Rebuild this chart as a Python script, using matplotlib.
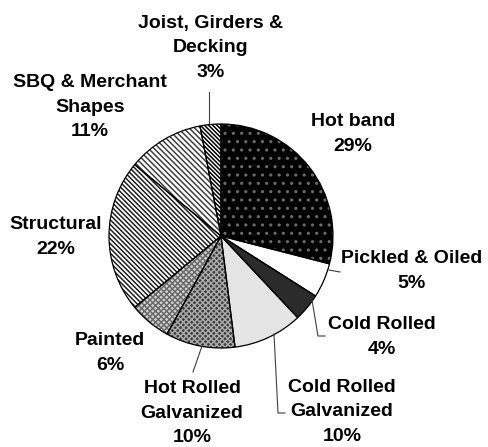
import matplotlib.pyplot as plt

# Product mix shares (%)
products = ['Hot band', 'Pickled & Oiled', 'Cold Rolled', 'Cold Rolled\nGalvanized',
            'Hot Rolled\nGalvanized', 'Painted', 'Structural', 'SBQ & Merchant\nShapes',
            'Joist, Girders &\nDecking']
shares = [29, 5, 4, 10, 10, 6, 22, 11, 3]

# fill style of each wedge: face colour, hatch, hatch colour
faces = ['black', 'white', '#2b2b2b', '#e4e4e4', '#383838', '#d4d4d4', 'white', 'white', 'white']
hatches = ['..', '', '', '', 'xxxxxx', 'xxxxxx', '\\' * 7, '\\' * 6, '\\' * 8]
hatch_cols = ['#6a6a6a', 'white', '#2b2b2b', '#e4e4e4', '#a8a8a8', '#6a6a6a', '#202020', '#404040', 'black']

# label positions in pixels (x, y from top)
label_pos = [(353, 134), (412, 271), (382, 337), (342, 412), (192, 413),
             (110, 353), (56, 237), (90, 107), (211, 48)]

plt.rcParams['font.family'] = ['Liberation Sans', 'DejaVu Sans']
plt.rcParams['hatch.linewidth'] = 1.1

W, H = 488, 447
fig = plt.figure(figsize=(W / 100, H / 100), dpi=100)
ax = fig.add_axes([0, 0, 1, 1])

cx, cy, r = 221, H - 236, 112

# patterned fill
wedges, _ = ax.pie(shares, startangle=90, counterclock=False, center=(cx, cy), radius=r,
                   colors=faces, wedgeprops=dict(linewidth=0), frame=True)
for w, h, hc in zip(wedges, hatches, hatch_cols):
    w.set_hatch(h)
    w.set_edgecolor(hc)
# outlines
ax.pie(shares, startangle=90, counterclock=False, center=(cx, cy), radius=r,
       colors=['none'] * len(shares), frame=True,
       wedgeprops=dict(linewidth=0.9, edgecolor='black', fill=False))
ax.set_xlim(0, W)
ax.set_ylim(0, H)
ax.set_aspect('equal')
ax.axis('off')

for name, val, (x, y) in zip(products, shares, label_pos):
    ax.text(x, H - y, f'{name}\n{val}%', ha='center', va='center',
            fontsize=14, fontweight='bold', linespacing=1.6)

# leader lines (pixel coords)
leaders = [
    [(209, 92), (209, 123)],
    [(329, 270), (340, 272)],
    [(312, 300), (318, 336), (325, 336)],
    [(274, 334), (278, 413), (285, 413)],
    [(202, 346), (193, 372)],
]
for pts in leaders:
    xs = [p[0] for p in pts]
    ys = [H - p[1] for p in pts]
    ax.plot(xs, ys, color='#404040', lw=0.8)

plt.savefig('out.png', dpi=100)
